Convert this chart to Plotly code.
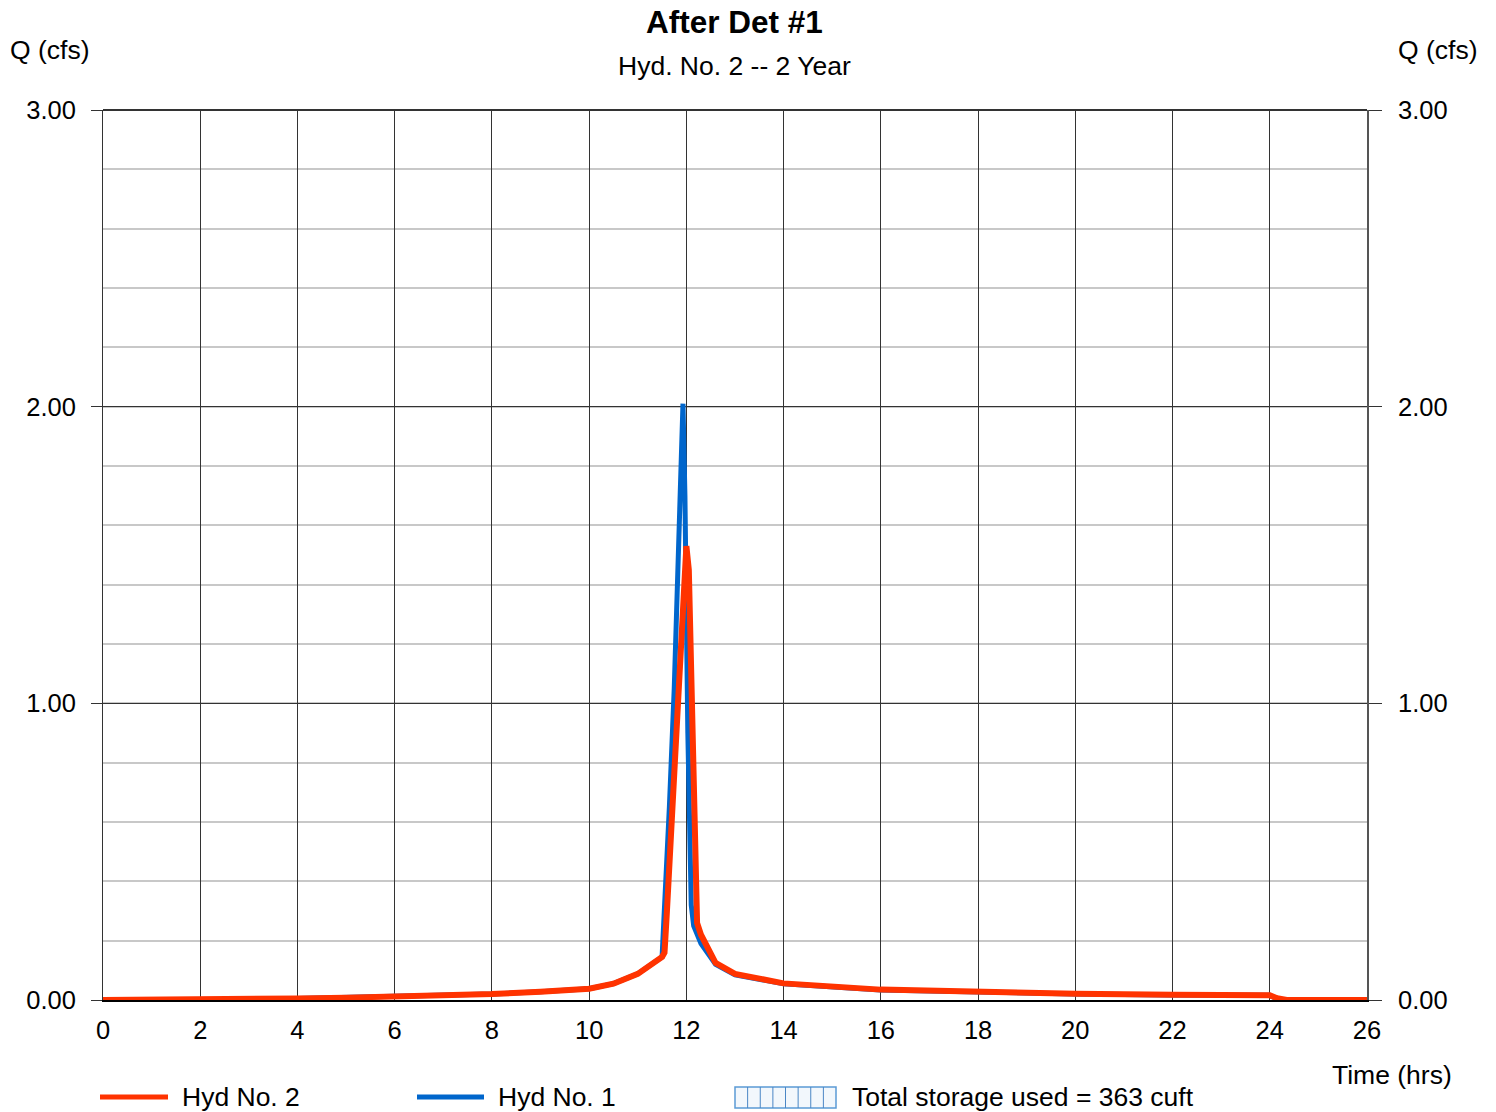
import plotly.graph_objects as go

# Hyd No. 1 (inflow)
t1 = [0, 2, 3, 4, 5, 6, 7, 8, 9, 10, 10.5, 11, 11.5, 11.55, 11.65, 11.75, 11.85, 11.93,
      11.97, 12.03, 12.1, 12.15, 12.3, 12.6, 13, 14, 16, 18, 20, 22, 24, 24.15, 24.35, 26]
q1 = [0, 0, 0.002, 0.005, 0.008, 0.011, 0.015, 0.02, 0.028, 0.038, 0.055, 0.088, 0.145,
      0.3, 0.65, 1.05, 1.55, 2.01, 1.7, 0.9, 0.32, 0.25, 0.19, 0.12, 0.085, 0.055, 0.034,
      0.026, 0.02, 0.017, 0.016, 0.003, 0, 0]

# Hyd No. 2 (outflow)
t2 = [0, 2, 3, 4, 5, 6, 7, 8, 9, 10, 10.5, 11, 11.5, 11.55, 11.6, 11.7, 11.8, 11.9, 12.0,
      12.05, 12.1, 12.17, 12.22, 12.3, 12.6, 13, 14, 16, 18, 20, 22, 24, 24.15, 24.35, 26]
q2 = [0, 0, 0.002, 0.005, 0.008, 0.011, 0.015, 0.02, 0.028, 0.038, 0.055, 0.088, 0.145,
      0.16, 0.3, 0.62, 0.95, 1.3, 1.53, 1.45, 1.1, 0.5, 0.26, 0.22, 0.125, 0.088, 0.056,
      0.035, 0.027, 0.021, 0.018, 0.016, 0.006, 0, 0]

y_ticks = [0, 1, 2, 3]
x_ticks = list(range(0, 27, 2))

W, H = 1496, 1112
L, R, T, B = 103, 1367, 110, 1000
PW, PH = R - L, B - T


def px(x):
    return (x - L) / PW


def py(y):
    return (B - y) / PH


FONT = "Liberation Sans, Arial, sans-serif"
RED = "#FF3300"
BLUE = "#0066CC"
TXT = 26.5
TICK = 25.5

fig = go.Figure()
fig.add_trace(go.Scatter(x=t1, y=q1, mode="lines", line=dict(color=BLUE, width=5),
                         name="Hyd No. 1", showlegend=False, hoverinfo="skip"))
fig.add_trace(go.Scatter(x=t2, y=q2, mode="lines", line=dict(color=RED, width=6),
                         name="Hyd No. 2", showlegend=False, hoverinfo="skip"))
# invisible trace to enable the right axis
fig.add_trace(go.Scatter(x=t2, y=q2, yaxis="y2", mode="lines", line=dict(width=0),
                         opacity=0, showlegend=False, hoverinfo="skip"))

fig.update_layout(
    width=W, height=H,
    margin=dict(l=L, r=W - R, t=T, b=H - B, pad=0),
    paper_bgcolor="white", plot_bgcolor="white",
    font=dict(family=FONT, size=TICK, color="black"),
    showlegend=False,
    xaxis=dict(range=[0, 26], tickvals=x_ticks, ticktext=[str(v) for v in x_ticks],
               showgrid=True, gridcolor="#333333", gridwidth=1,
               showline=True, linecolor="#000000", linewidth=2, mirror=False,
               zeroline=False, ticks="", ticklabelstandoff=6,
               tickfont=dict(size=TICK, family=FONT)),
    yaxis=dict(range=[0, 3], tickvals=y_ticks, ticktext=["%.2f" % v for v in y_ticks],
               showgrid=True, gridcolor="#333333", gridwidth=1,
               minor=dict(dtick=0.2, showgrid=True, gridcolor="#c8c8c8", gridwidth=2),
               showline=True, linecolor="#333333", linewidth=1,
               zeroline=False, ticks="outside", ticklen=11, tickcolor="#333333",
               tickwidth=1, ticklabelstandoff=10, tickfont=dict(size=TICK, family=FONT)),
    yaxis2=dict(range=[0, 3], tickvals=y_ticks, ticktext=["%.2f" % v for v in y_ticks],
                overlaying="y", side="right", anchor="x", showgrid=False,
                showline=True, linecolor="#555555", linewidth=2,
                zeroline=False, ticks="outside", ticklen=13, tickcolor="#333333",
                tickwidth=1, ticklabelstandoff=11, tickfont=dict(size=TICK, family=FONT)),
)

# top border
fig.add_shape(type="line", xref="paper", yref="paper", x0=0, x1=1, y0=1, y1=1,
              line=dict(color="#333333", width=2))

ann = [
    dict(text="<b>After Det #1</b>", x=px(734), y=py(22), size=31.5),
    dict(text="Hyd. No. 2 -- 2 Year", x=px(734), y=py(66), size=TXT),
    dict(text="Q (cfs)", x=px(50), y=py(50), size=TXT),
    dict(text="Q (cfs)", x=px(1438), y=py(50), size=TXT),
    dict(text="Time (hrs)", x=px(1392), y=py(1075), size=TXT),
]
for a in ann:
    fig.add_annotation(text=a["text"], x=a["x"], y=a["y"], xref="paper", yref="paper",
                       showarrow=False, xanchor="center", yanchor="middle",
                       font=dict(size=a["size"], family=FONT, color="black"))

# legend
LY = 1097
legend_items = [("Hyd No. 2", RED, 100, 168, 180), ("Hyd No. 1", BLUE, 417, 484, 496)]
for label, col, xa, xb, xt in legend_items:
    fig.add_shape(type="line", xref="paper", yref="paper", x0=px(xa), x1=px(xb),
                  y0=py(LY), y1=py(LY), line=dict(color=col, width=5))
    fig.add_annotation(text=label, x=px(xt), y=py(LY), xref="paper", yref="paper",
                       showarrow=False, xanchor="left", yanchor="middle",
                       font=dict(size=TXT, family=FONT, color="black"))

bx0, bx1, by0, by1 = 735, 836, 1087, 1108
fig.add_shape(type="rect", xref="paper", yref="paper", x0=px(bx0), x1=px(bx1),
              y0=py(by1), y1=py(by0), line=dict(color="#5b9bd5", width=1.5),
              fillcolor="#f2f7fc")
for i in range(1, 8):
    xx = bx0 + i * (bx1 - bx0) / 8
    fig.add_shape(type="line", xref="paper", yref="paper", x0=px(xx), x1=px(xx),
                  y0=py(by1), y1=py(by0), line=dict(color="#4a86c5", width=1))
fig.add_annotation(text="Total storage used = 363 cuft", x=px(850), y=py(LY),
                   xref="paper", yref="paper", showarrow=False, xanchor="left",
                   yanchor="middle", font=dict(size=TXT, family=FONT, color="black"))

fig.write_html("out.html")
